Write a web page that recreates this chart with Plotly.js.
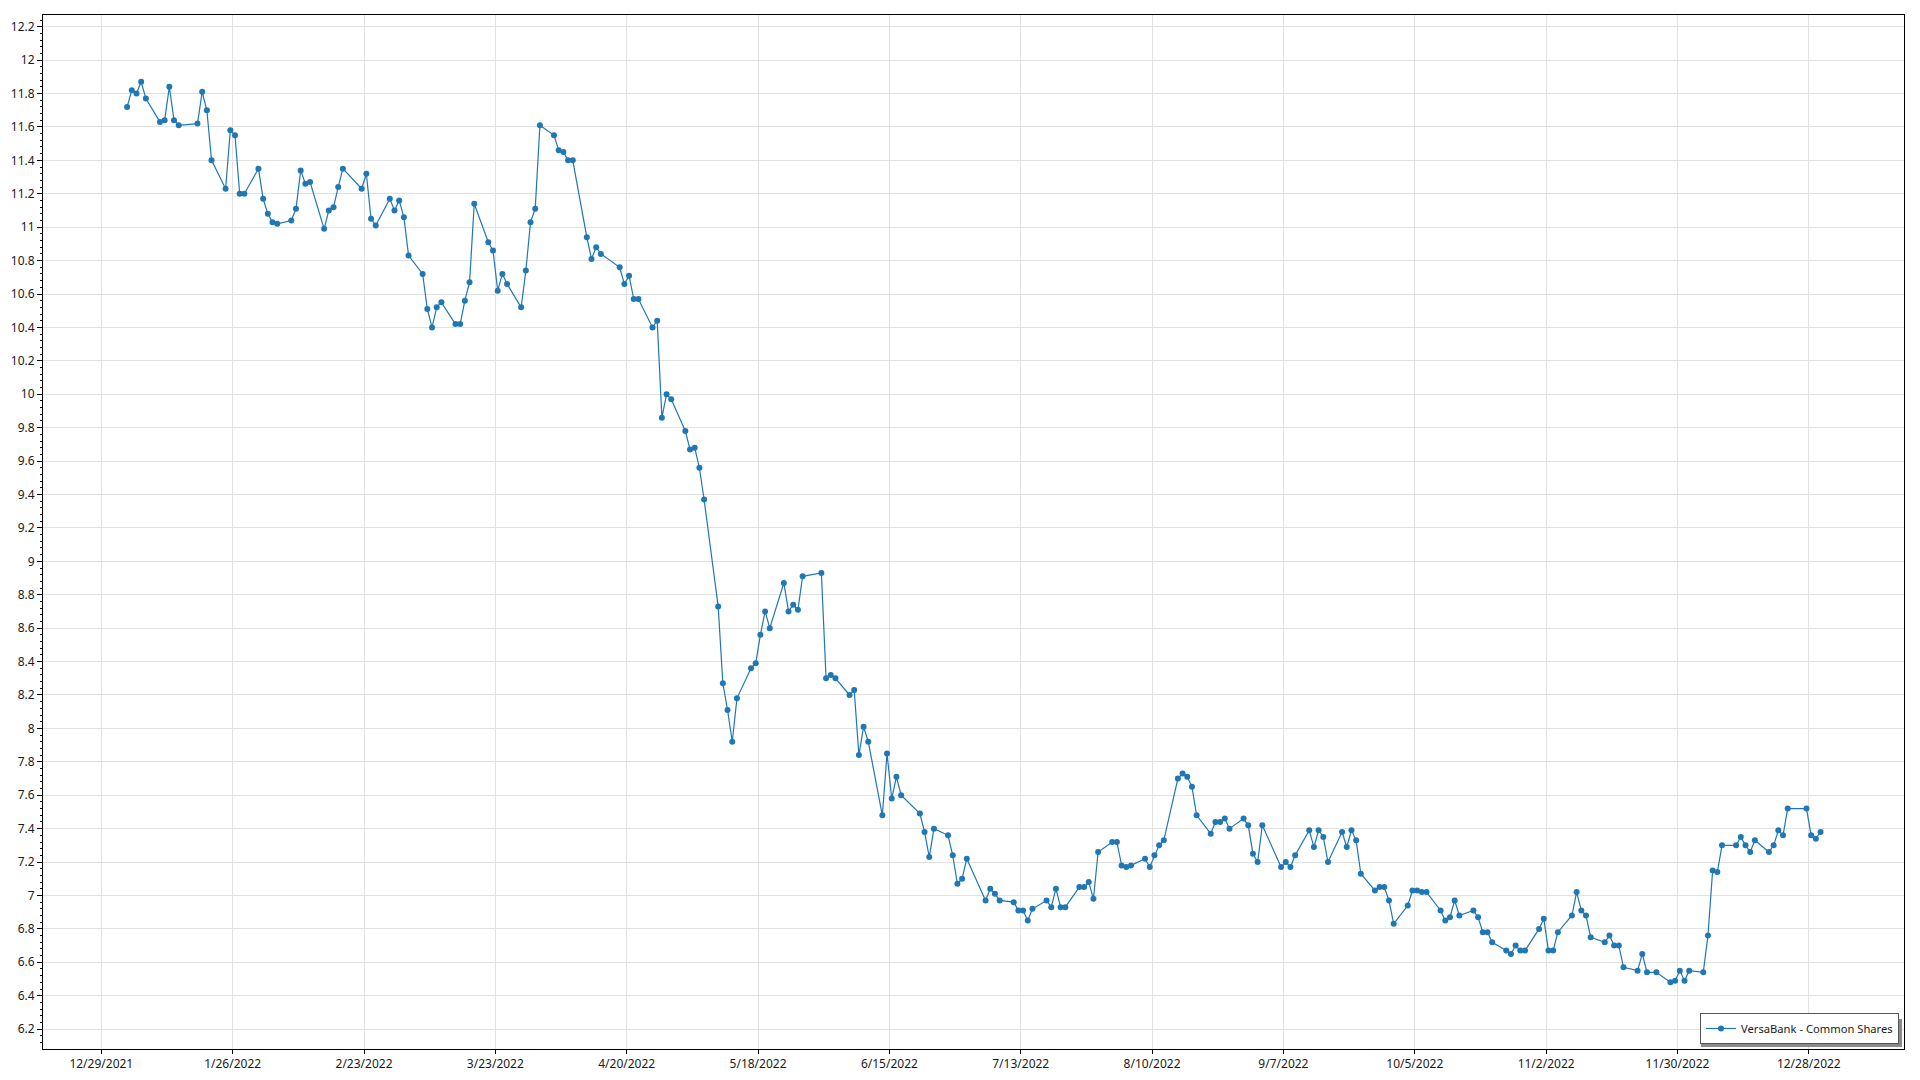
<!DOCTYPE html>
<html>
<head>
<meta charset="utf-8">
<script src="https://cdn.plot.ly/plotly-3.0.1.min.js"></script>
<style>html,body{margin:0;padding:0;background:#fff;}#chart{width:1920px;height:1080px;}</style>
</head>
<body>
<div id="chart"></div>
<script>
const seriesName = 'VersaBank - Common Shares';

const dates = [
'2022-01-03','2022-01-04','2022-01-05','2022-01-06','2022-01-07',
'2022-01-10','2022-01-11','2022-01-12','2022-01-13','2022-01-14',
'2022-01-18','2022-01-19','2022-01-20','2022-01-21',
'2022-01-24','2022-01-25','2022-01-26','2022-01-27','2022-01-28',
'2022-01-31','2022-02-01','2022-02-02','2022-02-03','2022-02-04',
'2022-02-07','2022-02-08','2022-02-09','2022-02-10','2022-02-11',
'2022-02-14','2022-02-15','2022-02-16','2022-02-17','2022-02-18',
'2022-02-22','2022-02-23','2022-02-24','2022-02-25',
'2022-02-28','2022-03-01','2022-03-02','2022-03-03','2022-03-04',
'2022-03-07','2022-03-08','2022-03-09','2022-03-10','2022-03-11',
'2022-03-14','2022-03-15','2022-03-16','2022-03-17','2022-03-18',
'2022-03-21','2022-03-22','2022-03-23','2022-03-24','2022-03-25',
'2022-03-28','2022-03-29','2022-03-30','2022-03-31','2022-04-01',
'2022-04-04','2022-04-05','2022-04-06','2022-04-07','2022-04-08',
'2022-04-11','2022-04-12','2022-04-13','2022-04-14',
'2022-04-18','2022-04-19','2022-04-20','2022-04-21','2022-04-22',
'2022-04-25','2022-04-26','2022-04-27','2022-04-28','2022-04-29',
'2022-05-02','2022-05-03','2022-05-04','2022-05-05','2022-05-06',
'2022-05-09','2022-05-10','2022-05-11','2022-05-12','2022-05-13',
'2022-05-16','2022-05-17','2022-05-18','2022-05-19','2022-05-20',
'2022-05-23','2022-05-24','2022-05-25','2022-05-26','2022-05-27',
'2022-05-31','2022-06-01','2022-06-02','2022-06-03',
'2022-06-06','2022-06-07','2022-06-08','2022-06-09','2022-06-10',
'2022-06-13','2022-06-14','2022-06-15','2022-06-16','2022-06-17',
'2022-06-21','2022-06-22','2022-06-23','2022-06-24',
'2022-06-27','2022-06-28','2022-06-29','2022-06-30','2022-07-01',
'2022-07-05','2022-07-06','2022-07-07','2022-07-08',
'2022-07-11','2022-07-12','2022-07-13','2022-07-14','2022-07-15',
'2022-07-18','2022-07-19','2022-07-20','2022-07-21','2022-07-22',
'2022-07-25','2022-07-26','2022-07-27','2022-07-28','2022-07-29',
'2022-08-01','2022-08-02','2022-08-03','2022-08-04','2022-08-05',
'2022-08-08','2022-08-09','2022-08-10','2022-08-11','2022-08-12',
'2022-08-15','2022-08-16','2022-08-17','2022-08-18','2022-08-19',
'2022-08-22','2022-08-23','2022-08-24','2022-08-25','2022-08-26',
'2022-08-29','2022-08-30','2022-08-31','2022-09-01','2022-09-02',
'2022-09-06','2022-09-07','2022-09-08','2022-09-09',
'2022-09-12','2022-09-13','2022-09-14','2022-09-15','2022-09-16',
'2022-09-19','2022-09-20','2022-09-21','2022-09-22','2022-09-23',
'2022-09-26','2022-09-27','2022-09-28','2022-09-29','2022-09-30',
'2022-10-03','2022-10-04','2022-10-05','2022-10-06','2022-10-07',
'2022-10-10','2022-10-11','2022-10-12','2022-10-13','2022-10-14',
'2022-10-17','2022-10-18','2022-10-19','2022-10-20','2022-10-21',
'2022-10-24','2022-10-25','2022-10-26','2022-10-27','2022-10-28',
'2022-10-31','2022-11-01','2022-11-02','2022-11-03','2022-11-04',
'2022-11-07','2022-11-08','2022-11-09','2022-11-10','2022-11-11',
'2022-11-14','2022-11-15','2022-11-16','2022-11-17','2022-11-18',
'2022-11-21','2022-11-22','2022-11-23','2022-11-25',
'2022-11-28','2022-11-29','2022-11-30','2022-12-01','2022-12-02',
'2022-12-05','2022-12-06','2022-12-07','2022-12-08','2022-12-09',
'2022-12-12','2022-12-13','2022-12-14','2022-12-15','2022-12-16',
'2022-12-19','2022-12-20','2022-12-21','2022-12-22','2022-12-23',
'2022-12-27','2022-12-28','2022-12-29','2022-12-30'
];

const prices = [
11.72,11.82,11.80,11.87,11.77,
11.63,11.64,11.84,11.64,11.61,
11.62,11.81,11.70,11.40,
11.23,11.58,11.55,11.20,11.20,
11.35,11.17,11.08,11.03,11.02,
11.04,11.11,11.34,11.26,11.27,
10.99,11.10,11.12,11.24,11.35,
11.23,11.32,11.05,11.01,
11.17,11.10,11.16,11.06,10.83,
10.72,10.51,10.40,10.52,10.55,
10.42,10.42,10.56,10.67,11.14,
10.91,10.86,10.62,10.72,10.66,
10.52,10.74,11.03,11.11,11.61,
11.55,11.46,11.45,11.40,11.40,
10.94,10.81,10.88,10.84,
10.76,10.66,10.71,10.57,10.57,
10.40,10.44,9.86,10.00,9.97,
9.78,9.67,9.68,9.56,9.37,
8.73,8.27,8.11,7.92,8.18,
8.36,8.39,8.56,8.70,8.60,
8.87,8.70,8.74,8.71,8.91,
8.93,8.30,8.32,8.30,
8.20,8.23,7.84,8.01,7.92,
7.48,7.85,7.58,7.71,7.60,
7.49,7.38,7.23,7.40,
7.36,7.24,7.07,7.10,7.22,
6.97,7.04,7.01,6.97,
6.96,6.91,6.91,6.85,6.92,
6.97,6.93,7.04,6.93,6.93,
7.05,7.05,7.08,6.98,7.26,
7.32,7.32,7.18,7.17,7.18,
7.22,7.17,7.24,7.30,7.33,
7.70,7.73,7.71,7.65,7.48,
7.37,7.44,7.44,7.46,7.40,
7.46,7.42,7.25,7.20,7.42,
7.17,7.20,7.17,7.24,
7.39,7.29,7.39,7.35,7.20,
7.38,7.29,7.39,7.33,7.13,
7.03,7.05,7.05,6.97,6.83,
6.94,7.03,7.03,7.02,7.02,
6.91,6.85,6.87,6.97,6.88,
6.91,6.87,6.78,6.78,6.72,
6.67,6.65,6.70,6.67,6.67,
6.80,6.86,6.67,6.67,6.78,
6.88,7.02,6.91,6.88,6.75,
6.72,6.76,6.70,6.70,6.57,
6.55,6.65,6.54,6.54,
6.48,6.49,6.55,6.49,6.55,
6.54,6.76,7.15,7.14,7.30,
7.30,7.35,7.30,7.26,7.33,
7.26,7.30,7.39,7.36,7.52,
7.52,7.36,7.34,7.38
];

const xTick0 = '2021-12-29';
const xTickDays = 28;
const yTickStep = 0.2;

const W = 1920, H = 1080;
const L = 43, R = 16, T = 15, B = 31;
const pw = W - L - R, ph = H - T - B;
function px(x){ return (x - L) / pw; }
function py(y){ return (H - B - y) / ph; }

const trace = {
  type: 'scatter',
  mode: 'lines+markers',
  name: seriesName,
  x: dates,
  y: prices,
  xperiod: 86400000,
  xperiodalignment: 'middle',
  line: {color: '#1f77b4', width: 1.2},
  marker: {color: '#1f77b4', size: 6}
};

const layout = {
  width: W, height: H,
  margin: {l: L, r: R, t: T, b: B, pad: 0},
  paper_bgcolor: '#ffffff',
  plot_bgcolor: '#ffffff',
  font: {family: '"Noto Sans", "Open Sans", sans-serif', size: 12, color: '#1a1a1a'},
  showlegend: true,
  xaxis: {
    type: 'date',
    range: ['2021-12-16 13:40', '2023-01-17 07:00'],
    tick0: xTick0,
    dtick: xTickDays * 86400000,
    tickformat: '%-m/%-d/%Y',
    showgrid: true, gridcolor: '#e2e2e2', gridwidth: 1,
    showline: true, linecolor: '#000', linewidth: 1, mirror: true,
    ticks: 'outside', ticklen: 4, tickcolor: '#000',
    zeroline: false,
    tickfont: {size: 12}
  },
  yaxis: {
    range: [6.081, 12.27],
    tick0: 0,
    dtick: yTickStep,
    showgrid: true, gridcolor: '#e2e2e2', gridwidth: 1,
    showline: true, linecolor: '#000', linewidth: 1, mirror: true,
    ticks: 'outside', ticklen: 5, tickcolor: '#000',
    zeroline: false,
    tickfont: {size: 12},
    minor: {dtick: 0.04, ticks: 'outside', ticklen: 2, tickcolor: '#000', showgrid: false}
  },
  legend: {
    x: px(1899), xanchor: 'right',
    y: py(1044), yanchor: 'bottom',
    bgcolor: '#ffffff', bordercolor: '#555555', borderwidth: 1,
    font: {size: 11.2, color: '#1a1a1a'}
  },
  shapes: [{
    type: 'rect', xref: 'paper', yref: 'paper', layer: 'above',
    x0: px(1701), x1: px(1902), y0: py(1047), y1: py(1019),
    fillcolor: '#8a8a8a', line: {width: 0}
  }]
};

Plotly.newPlot('chart', [trace], layout, {displayModeBar: false, staticPlot: true});
</script>
</body>
</html>
